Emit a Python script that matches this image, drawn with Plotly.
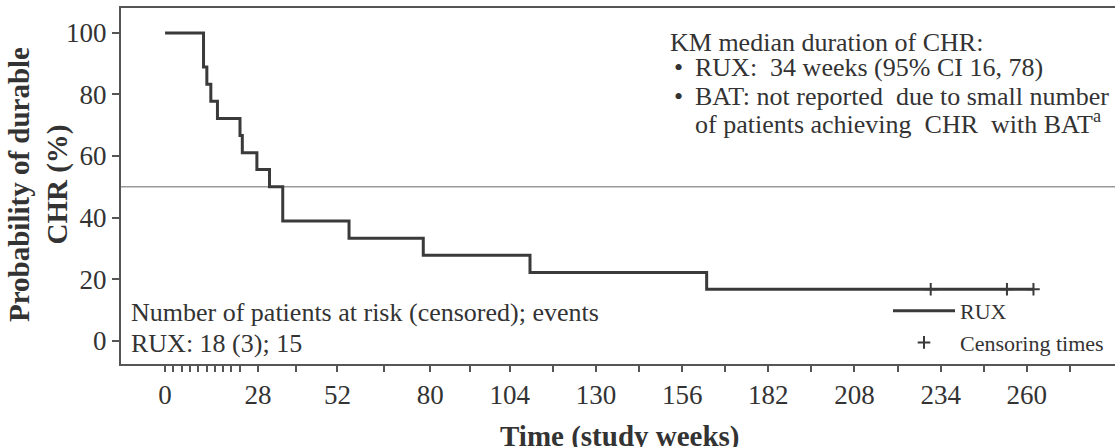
import plotly.graph_objects as go

# ---- data ----
km_time = [0, 11.6, 12.6, 13.8, 15.8, 22.6, 23.3, 27.7, 31.5, 35.5, 55.5, 77.9, 110.1, 163.4, 262]
km_surv = [100, 88.9, 83.3, 77.8, 72.2, 66.7, 61.1, 55.6, 50.0, 38.9, 33.3, 27.8, 22.2, 16.7, 16.7]
cens_time = [231, 254, 262]
cens_surv = [16.7, 16.7, 16.7]
median_ref = 50

x_tick_vals = [0, 2.5, 5, 7.5, 10, 12.5, 15, 17.5, 20, 22.5, 28, 39.5, 52, 66, 80, 92,
               104, 117, 130, 143, 156, 169, 182, 195, 208, 221, 234, 247, 260, 273]
x_labeled = {0: "0", 28: "28", 52: "52", 80: "80", 104: "104", 130: "130", 156: "156",
             182: "182", 208: "208", 234: "234", 260: "260"}
x_tick_text = [x_labeled.get(v, "") for v in x_tick_vals]
y_tick_vals = [0, 20, 40, 60, 80, 100]

FONT = "Liberation Serif"
INK = "#333333"
AX = "#555555"

W, H = 1115, 447
L, R, T, B = 121, 0, 8, 83
PW, PH = W - L - R, H - T - B


def px_x(px):
    return (px - L) / PW


def px_y(py):
    return (H - B - py) / PH


fig = go.Figure()
fig.add_trace(go.Scatter(
    x=km_time, y=km_surv, mode="lines", line=dict(shape="hv", color="#3a3a3a", width=3),
    name="RUX", legendgroup="a"))
fig.add_trace(go.Scatter(
    x=cens_time, y=cens_surv, mode="markers",
    marker=dict(symbol="cross-thin", size=9, color="#3a3a3a", line=dict(width=2, color="#3a3a3a")),
    name="Censoring times", legendgroup="b"))

fig.add_shape(type="line", xref="paper", x0=0, x1=1, yref="y", y0=median_ref, y1=median_ref,
              line=dict(color="#9a9a9a", width=1.5), layer="below")

ann = []


def txt(text, x, y, size=26, anchor="left", angle=0):
    ann.append(dict(text=text, xref="paper", yref="paper", x=px_x(x), y=px_y(y),
                    xanchor=anchor, yanchor="middle", showarrow=False,
                    align="center" if anchor == "center" else "left",
                    textangle=angle, font=dict(family=FONT, size=size, color=INK)))


txt("KM median duration of CHR:", 668, 43)
txt("•", 672, 67)
txt("•", 672, 96)
txt("RUX:\u00a0 34 weeks (95% CI 16, 78)", 693, 67)
txt("BAT: not reported\u00a0 due to small number", 693, 96)
txt("of patients achieving\u00a0 CHR\u00a0 with BAT<sup>a</sup>", 693, 122)
txt("Number of patients at risk (censored); events", 129, 312)
txt("RUX: 18 (3); 15", 129, 343)
# axis titles
txt("<b>Time (study weeks)</b>", 620, 436, size=29, anchor="center")
txt("<b>Probability of durable<br>CHR (%)</b>", 38, 185, size=29, anchor="center", angle=-90)

fig.update_layout(
    width=W, height=H,
    margin=dict(l=L, r=R, t=T, b=B, pad=0, autoexpand=False),
    paper_bgcolor="white", plot_bgcolor="white",
    font=dict(family=FONT, color=INK),
    annotations=ann,
    showlegend=True,
    legend=dict(x=px_x(888), y=px_y(290), xanchor="left", yanchor="top",
                bgcolor="rgba(0,0,0,0)", font=dict(family=FONT, size=22, color=INK),
                tracegroupgap=0, itemwidth=62),
    xaxis=dict(range=[-13.3, 286.6], showgrid=False, zeroline=False, automargin=False,
               showline=True, linecolor=AX, linewidth=2, mirror=True,
               ticks="outside", ticklen=6, tickwidth=1.5, tickcolor=AX,
               tickmode="array", tickvals=x_tick_vals, ticktext=x_tick_text,
               tickfont=dict(family=FONT, size=27, color=INK)),
    yaxis=dict(range=[-7.57, 108.1], showgrid=False, zeroline=False, automargin=False,
               showline=True, linecolor=AX, linewidth=2,
               ticks="outside", ticklen=7, tickwidth=1.5, tickcolor=AX,
               tickmode="array", tickvals=y_tick_vals,
               tickfont=dict(family=FONT, size=27, color=INK)),
)

fig.write_html("out.html", config={"displayModeBar": False},
               post_script="document.body.style.margin='0px';")
